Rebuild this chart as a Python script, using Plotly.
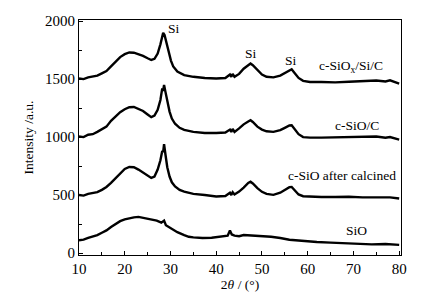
import plotly.graph_objects as go

# c-SiOx/Si/C
xa = [10, 11, 12, 13, 14, 15, 16, 17, 18, 19, 20, 21, 22, 23, 24, 25, 25.8, 26.5, 27.2, 27.8, 28.2, 28.4, 28.7, 29.1, 29.6, 30.1, 30.6, 31.5, 33, 35, 37.5, 40, 42, 43, 43.3, 43.6, 44, 45, 46, 47, 47.5, 48, 49, 50, 51, 52.5, 54, 55, 56, 56.5, 57, 58, 59, 60.5, 63, 66, 69, 72, 75, 77, 78, 80]
ya = [1505, 1500, 1515, 1520, 1530, 1550, 1570, 1610, 1650, 1690, 1715, 1730, 1728, 1715, 1700, 1680, 1665, 1675, 1720, 1800, 1870, 1900, 1880, 1820, 1730, 1660, 1610, 1565, 1535, 1520, 1510, 1505, 1510, 1540, 1520, 1545, 1520, 1545, 1590, 1625, 1635, 1620, 1580, 1540, 1520, 1515, 1530, 1555, 1580, 1585, 1560, 1510, 1485, 1475, 1475, 1472, 1478, 1482, 1488, 1480, 1490, 1462]

# c-SiO/C
xb = [10, 11, 12, 13, 14, 15, 16, 17, 18, 19, 20, 21, 22, 23, 24, 25, 25.8, 26.5, 27.2, 27.8, 28.2, 28.4, 28.6, 28.9, 29.3, 29.8, 30.3, 31, 32, 33, 35, 37.5, 40, 42, 43, 43.3, 43.6, 44, 45, 46, 47, 47.5, 48, 49, 50, 51, 52.5, 54, 55, 56, 56.5, 57, 58, 59, 60.5, 63, 66, 69, 72, 75, 77, 78, 80]
yb = [1005, 1000, 1020, 1025, 1045, 1065, 1090, 1140, 1180, 1215, 1240, 1258, 1260, 1245, 1225, 1195, 1172, 1185, 1235, 1320, 1420, 1400, 1450, 1390, 1300, 1220, 1160, 1115, 1080, 1062, 1045, 1035, 1035, 1040, 1065, 1045, 1070, 1045, 1075, 1110, 1135, 1145, 1130, 1090, 1065, 1050, 1045, 1060, 1080, 1100, 1102, 1075, 1025, 1000, 995, 995, 998, 1002, 1000, 1005, 995, 1000, 978]

# c-SiO after calcined
xc = [10, 11, 12, 13, 14, 15, 16, 17, 18, 19, 20, 21, 22, 23, 24, 25, 25.8, 26.5, 27.2, 27.8, 28.2, 28.4, 28.6, 28.9, 29.3, 29.8, 30.3, 31, 32, 33, 35, 37.5, 40, 42, 43, 43.3, 43.6, 44, 45, 46, 47, 47.5, 48, 49, 50, 51, 52.5, 54, 55, 56, 56.5, 57, 58, 59, 60.5, 63, 66, 69, 72, 75, 77, 78, 80]
yc = [500, 495, 510, 515, 525, 545, 570, 605, 645, 690, 725, 742, 740, 720, 695, 665, 648, 660, 720, 800, 880, 870, 940, 850, 740, 660, 610, 575, 545, 530, 510, 500, 488, 492, 520, 500, 525, 505, 530, 565, 605, 615, 600, 560, 528, 510, 502, 520, 545, 568, 570, 545, 505, 490, 485, 483, 483, 485, 480, 482, 478, 480, 470]

# SiO
xd = [10, 11, 12, 13, 14, 15, 16, 17, 18, 19, 20, 21, 22, 23, 24, 25, 26, 27, 28, 28.6, 29, 30, 31.5, 33, 34, 35, 37, 39, 41, 42.5, 43, 43.4, 44, 45, 46, 48, 50, 52, 54, 56, 58, 60, 62, 65, 67, 70, 74, 77, 80]
yd = [110, 115, 130, 140, 155, 175, 195, 225, 250, 275, 290, 300, 308, 312, 305, 300, 292, 280, 262, 280, 240, 215, 180, 155, 140, 135, 130, 132, 140, 150, 195, 160, 150, 145, 155, 150, 148, 140, 130, 115, 108, 100, 95, 90, 86, 82, 75, 78, 70]

series = [(xa, ya), (xb, yb), (xc, yc), (xd, yd)]

peak_labels = ["Si", "Si", "Si"]
peak_x = [30.8, 47.6, 56.4]
peak_y = [1935, 1725, 1665]

curve_labels = ["c-SiO<sub>x</sub>/Si/C", "c-SiO/C", "c-SiO after calcined", "SiO"]
curve_lx = [69.5, 70.8, 67.4, 70.6]
curve_ly = [1605, 1103, 672, 198]

FAM = "Liberation Serif, Times New Roman, serif"
font = dict(family=FAM, size=13.5, color="black")
tfont = dict(family=FAM, size=15, color="black")

fig = go.Figure()
for xs, ys in series:
    fig.add_trace(go.Scatter(x=xs, y=ys, mode="lines",
                             line=dict(color="black", width=2.4), showlegend=False))

for t, x, y in zip(peak_labels, peak_x, peak_y):
    fig.add_annotation(x=x, y=y, text=t, showarrow=False, font=font)
for t, x, y in zip(curve_labels, curve_lx, curve_ly):
    fig.add_annotation(x=x, y=y, text=t, showarrow=False, font=font)

axis_common = dict(showline=True, linecolor="black", linewidth=1.2, mirror=True,
                   ticks="inside", ticklen=4, tickwidth=1, tickcolor="black",
                   showgrid=False, zeroline=False, tickfont=tfont, automargin=False)

fig.update_xaxes(range=[10, 80.4], tickvals=[10, 20, 30, 40, 50, 60, 70, 80],
                 minor=dict(tickvals=[15, 25, 35, 45, 55, 65, 75], ticks="inside", ticklen=3, tickcolor="black"),
                 title=dict(text="2<i>θ</i> / (°)", font=font, standoff=2), **axis_common)
fig.update_yaxes(range=[-17, 2010], tickvals=[0, 500, 1000, 1500, 2000],
                 minor=dict(tickvals=[250, 750, 1250, 1750], ticks="inside", ticklen=3, tickcolor="black"),
                 title=dict(text="Intensity /a.u.", font=font, standoff=8), **axis_common)

fig.update_layout(width=424, height=295, margin=dict(l=79, r=23, t=20, b=40),
                  plot_bgcolor="white", paper_bgcolor="white", font=font)

fig.write_html("out.html", config={"displayModeBar": False},
               post_script="document.body.style.margin='0';document.body.style.overflow='hidden';")
